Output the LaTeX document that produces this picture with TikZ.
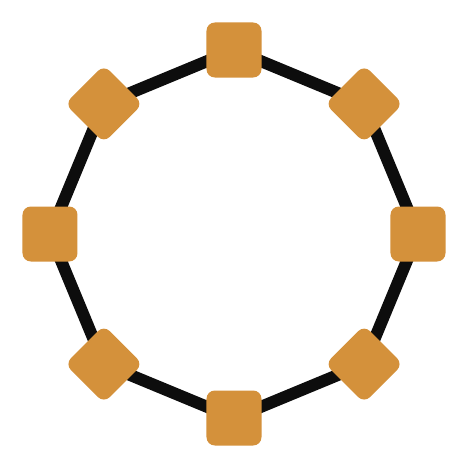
\documentclass[tikz,border=0pt]{standalone}
\usepackage{tikz}
\usetikzlibrary{backgrounds}
\definecolor{ochre}{HTML}{D4913B}
\tikzset{sqnode/.style={rectangle,rounded corners=2.5mm,fill=ochre,inner sep=0pt,minimum size=1.65cm},
	 ring/.style={line width=0.36cm,black!95}
	 }

\begin{document}
\begin{tikzpicture}[x=0.03cm,y=0.03cm] % ring of eight squares
	\useasboundingbox (-234,-236) rectangle (236,234);
	\foreach \a [count=\i from 0] in {90,45,0,-45,-90,-135,180,135}
		\node[sqnode,rotate=\a] (s\i) at (\a:184) {};
	\begin{pgfonlayer}{background}
	\draw[ring] (s0.center) -- (s1.center) -- (s2.center) -- (s3.center) -- (s4.center)
		-- (s5.center) -- (s6.center) -- (s7.center) -- cycle;
	\end{pgfonlayer}
\end{tikzpicture}
\end{document}
